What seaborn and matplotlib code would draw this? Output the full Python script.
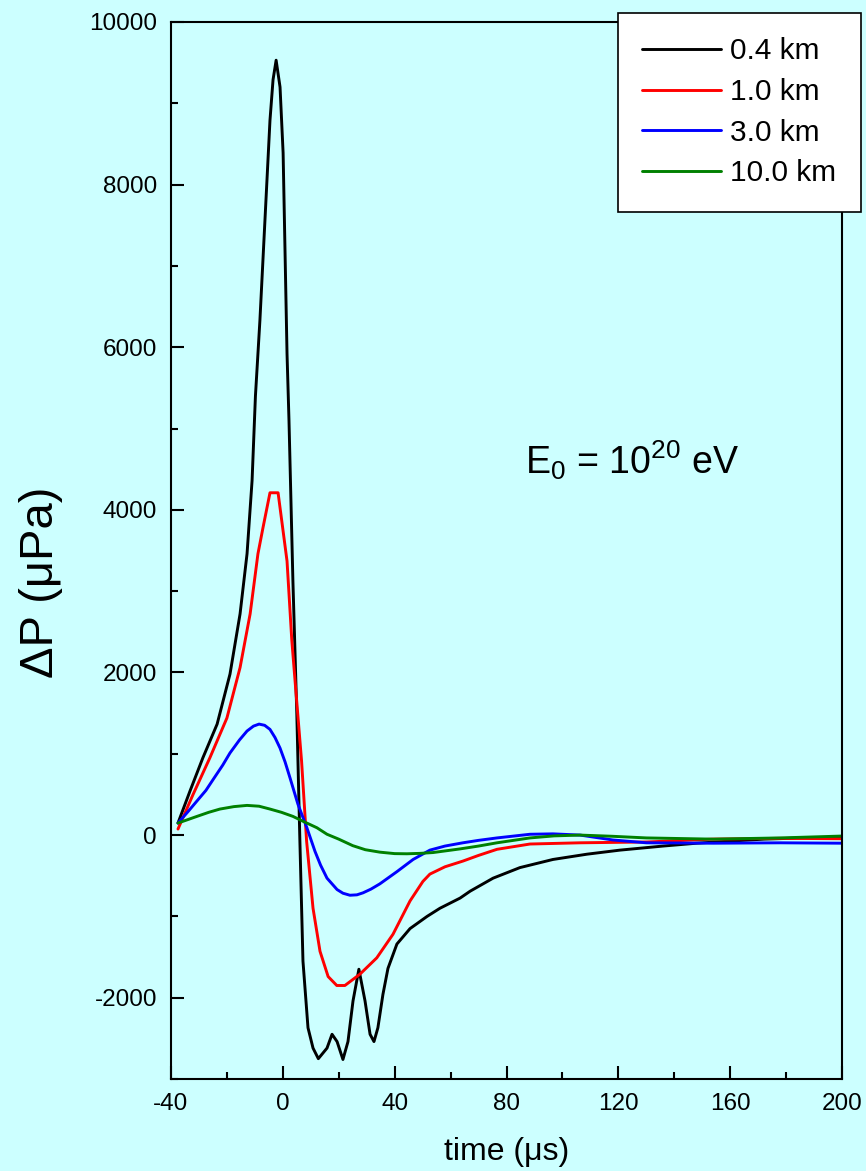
import numpy as np
import pandas as pd
import matplotlib
matplotlib.use("Agg")
import matplotlib.pyplot as plt
from matplotlib.ticker import MultipleLocator
import seaborn as sns

# ---- data ----
labels = ["0.4 km", "1.0 km", "3.0 km", "10.0 km"]
colors = ["#000000", "#ff0000", "#0000ff", "#008000"]

t_04 = [-37.5, -33.2, -28.6, -23.5, -18.9, -15.3, -12.8, -11.0, -9.8, -8.2, -6.4, -4.6, -3.5, -2.4,
        -1.0, 0.1, 0.8, 1.5, 2.2, 3.6, 5.0, 6.1, 7.2, 9.0, 10.8, 12.7, 15.8, 17.6, 19.4, 21.5, 23.3,
        25.1, 27.2, 29.4, 31.2, 32.6, 34.0, 35.8, 37.6, 40.8, 45.5, 51.6, 56.2, 63.4, 67.0, 75.2,
        84.8, 96.6, 108.8, 120.6, 136.0, 148.0, 160.0, 172.0, 186.0, 200.0]
p_04 = [148, 542, 950, 1365, 1980, 2720, 3460, 4360, 5400, 6330, 7560, 8790, 9290, 9530,
        9200, 8390, 7150, 5920, 5100, 3130, 1490, -74, -1550, -2370, -2620, -2750, -2620, -2450, -2540, -2760, -2540,
        -2040, -1650, -2040, -2450, -2540, -2370, -1960, -1640, -1340, -1150, -1000, -900, -775, -690, -530,
        -400, -300, -235, -185, -135, -100, -74, -50, -35, -25]

t_10 = [-37.5, -32.1, -26.1, -20.0, -15.3, -11.7, -8.9, -7.1, -4.6, -1.7, 1.5, 3.2, 4.6, 6.7, 8.5,
        10.8, 13.3, 16.2, 19.3, 22.2, 27.6, 33.6, 39.4, 45.5, 50.1, 52.6, 58.0, 64.4, 70.0, 76.6,
        88.4, 106.3, 130.2, 153.8, 177.8, 200.0]
p_10 = [74, 500, 950, 1440, 2060, 2720, 3460, 3780, 4210, 4210, 3370, 2400, 1800, 911, -74,
        -900, -1430, -1740, -1850, -1850, -1710, -1510, -1220, -810, -570, -480, -390, -320, -250, -175,
        -110, -95, -85, -50, -40, -45]

t_30 = [-37.5, -34.0, -30.7, -27.5, -25.0, -21.5, -18.9, -15.5, -12.8, -10.5, -8.5, -6.5, -4.6, -2.8,
        -1.0, 0.8, 2.6, 5.4, 8.6, 11.5, 13.5, 15.8, 19.4, 21.5, 24.0, 26.5, 28.7, 31.5, 34.7, 40.8,
        46.6, 52.6, 58.0, 64.4, 70.0, 76.6, 88.4, 96.6, 106.3, 118.0, 130.0, 154.0, 178.0, 200.0]
p_30 = [148, 285, 420, 550, 680, 860, 1010, 1170, 1280, 1340, 1365, 1350, 1300, 1200,
        1070, 900, 700, 380, 90, -200, -370, -530, -670, -715, -740, -735, -710, -665, -600, -450,
        -300, -185, -135, -95, -65, -35, 10, 15, 0, -60, -95, -100, -95, -100]

t_100 = [-37.5, -34.0, -30.7, -26.5, -22.5, -17.5, -12.8, -8.5, -4.6, -0.5, 3.6, 7.2, 12.2, 15.8,
         20.0, 25.0, 29.5, 34.7, 40.0, 44.4, 49.0, 53.7, 63.4, 70.0, 76.6, 88.4, 97.0, 106.3, 118.0,
         130.0, 154.0, 178.0, 200.0]
p_100 = [148, 190, 230, 280, 320, 350, 365, 355, 320, 280, 230, 170, 90, 10,
         -50, -130, -180, -210, -228, -230, -225, -215, -170, -135, -95, -35, -10, 0, -15,
         -35, -50, -35, -12]

x_ticks = [-40, 0, 40, 80, 120, 160, 200]
y_ticks = [-2000, 0, 2000, 4000, 6000, 8000, 10000]

# ---- long-form frame ----
frames = []
for lab, t, p in zip(labels, [t_04, t_10, t_30, t_100], [p_04, p_10, p_30, p_100]):
    frames.append(pd.DataFrame({"time": t, "dP": p, "distance": lab}))
df = pd.concat(frames, ignore_index=True)

# ---- style ----
sns.set_theme(style="ticks")
bg = "#ccffff"
plt.rcParams["font.family"] = ["Liberation Sans", "DejaVu Sans"]
plt.rcParams["mathtext.fontset"] = "custom"
plt.rcParams["mathtext.rm"] = "Liberation Sans"
plt.rcParams["mathtext.it"] = "Liberation Sans"
plt.rcParams["mathtext.default"] = "regular"
plt.rcParams["text.color"] = "black"
plt.rcParams["axes.labelcolor"] = "black"
plt.rcParams["xtick.color"] = "black"
plt.rcParams["ytick.color"] = "black"
plt.rcParams["xtick.labelcolor"] = "black"
plt.rcParams["ytick.labelcolor"] = "black"

fig = plt.figure(figsize=(8.66, 11.71), dpi=100, facecolor=bg)
ax = fig.add_axes([171 / 866, 1 - 1079 / 1171, (842 - 171) / 866, (1079 - 22) / 1171])
ax.set_facecolor(bg)

sns.lineplot(data=df, x="time", y="dP", hue="distance", hue_order=labels,
             palette=dict(zip(labels, colors)), sort=False, estimator=None,
             linewidth=2.1, ax=ax, legend=True)

ax.set_xlim(-40, 200)
ax.set_ylim(-3000, 10000)
ax.set_xticks(x_ticks)
ax.set_yticks(y_ticks)
ax.set_xticklabels([str(v) for v in x_ticks])
ax.set_yticklabels([str(v) for v in y_ticks])
ax.xaxis.set_minor_locator(MultipleLocator(20))
ax.yaxis.set_minor_locator(MultipleLocator(1000))

for s in ax.spines.values():
    s.set_linewidth(1.5)
    s.set_color("black")
    s.set_visible(True)

ax.tick_params(which="major", direction="in", length=9.5, width=1.5, labelsize=17.5,
               pad=10, colors="black", bottom=True, left=True, top=False, right=False)
ax.tick_params(which="minor", direction="in", length=5, width=1.5, colors="black",
               bottom=True, left=True, top=False, right=False)

ax.set_xlabel("time (\u03bcs)", fontsize=23, va="center", color="black")
ax.xaxis.set_label_coords(0.5, (1079 - 1152) / 1057)
ax.set_ylabel("\u0394P (\u03bcPa)", fontsize=34, va="center", color="black")
ax.yaxis.set_label_coords((41 - 171) / 671, (1079 - 582) / 1057)

ax.text(86.6, 4446, r"$E_0$ = 10$^{20}$ eV", fontsize=27, va="baseline", ha="left",
        color="black")

handles, labs = ax.get_legend_handles_labels()
if ax.get_legend() is not None:
    ax.get_legend().remove()
leg = fig.legend(handles, labs, loc="upper right",
                 bbox_to_anchor=(861 / 866, 1 - 13 / 1171), bbox_transform=fig.transFigure,
                 fontsize=21.5, frameon=True, fancybox=False, framealpha=1,
                 edgecolor="black", facecolor="white", handlelength=2.65,
                 handletextpad=0.3, labelspacing=0.42, borderpad=0.82, borderaxespad=0)
leg.get_frame().set_linewidth(1.2)
for line in leg.get_lines():
    line.set_linewidth(2.1)
for txt in leg.get_texts():
    txt.set_color("black")

fig.savefig("out.png", dpi=100, facecolor=bg)
